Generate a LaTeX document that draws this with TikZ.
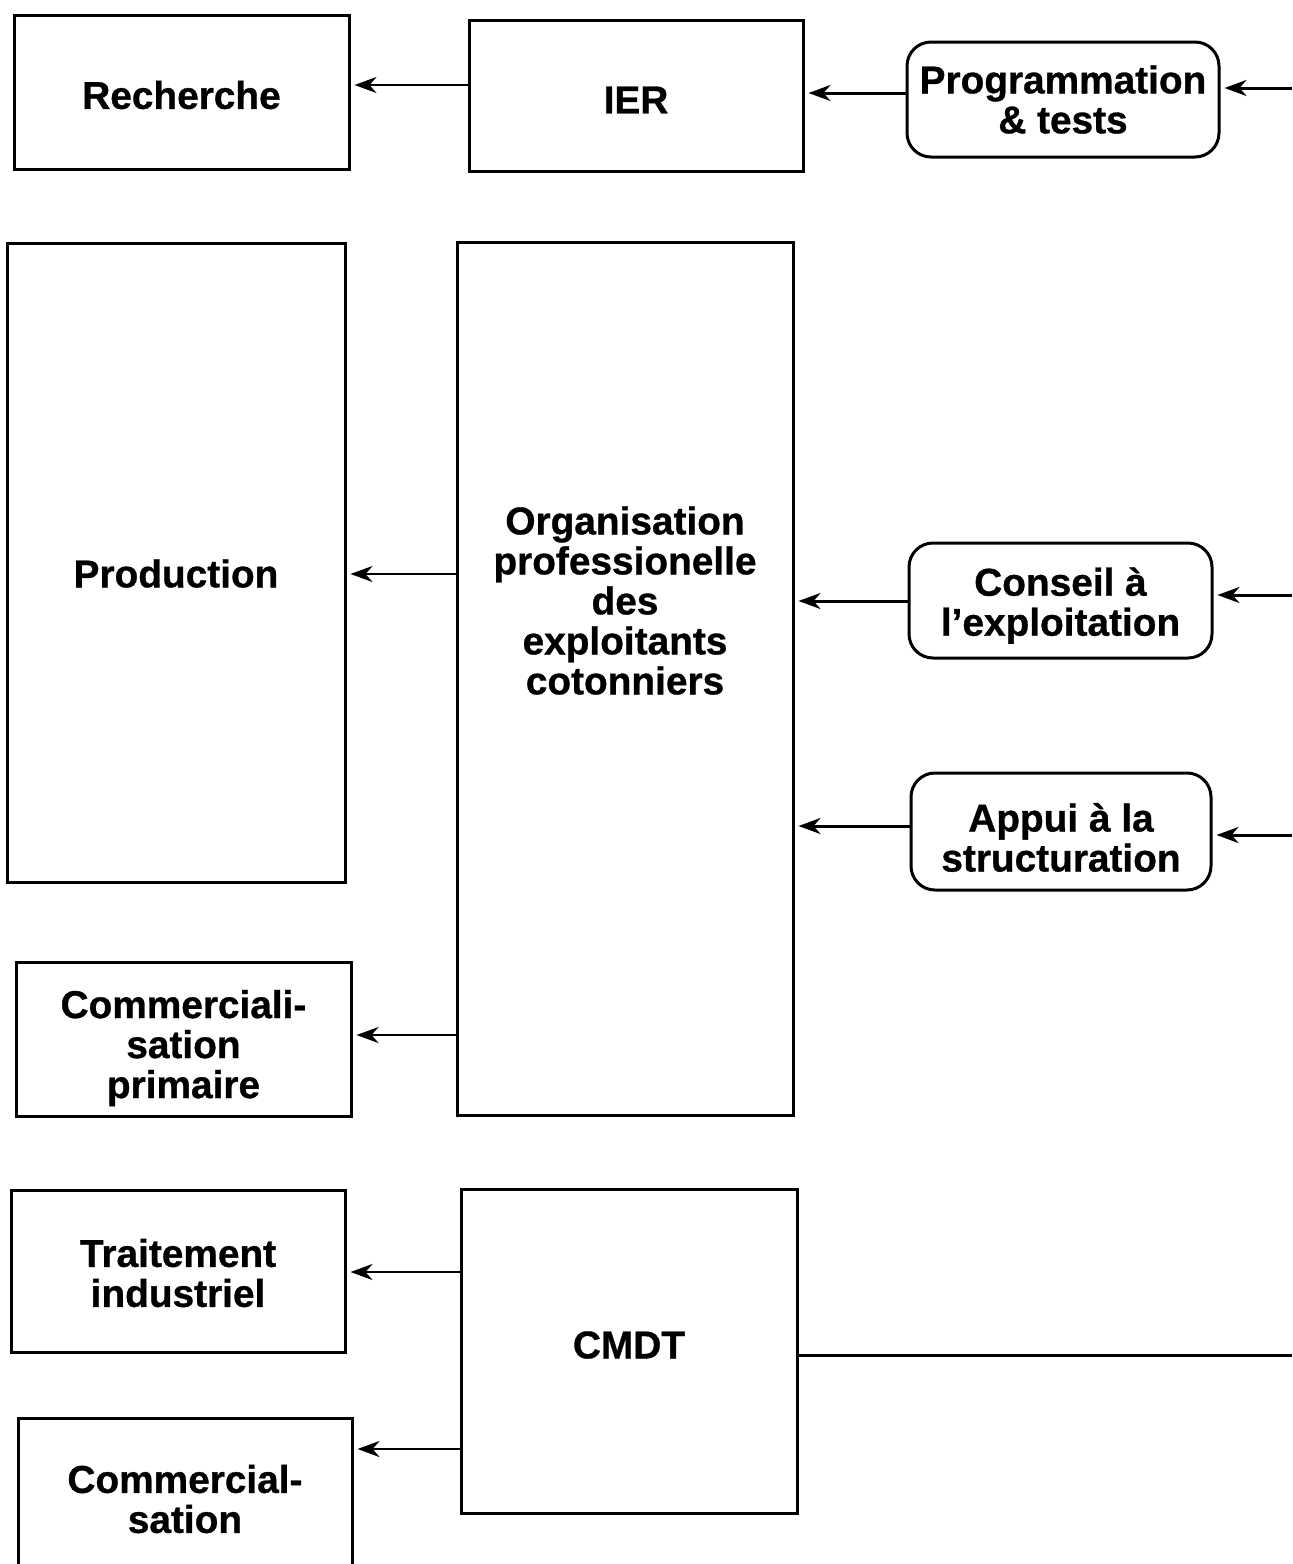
\documentclass[tikz,border=0pt]{standalone}
\usepackage{fontspec}
\setmainfont{Liberation Sans}[BoldFeatures={FakeBold=0.8}]
\usetikzlibrary{arrows.meta}
\begin{document}
\begin{tikzpicture}[x=0.5pt,y=-0.5pt,
  every node/.style={font=\fontsize{19.4}{20}\selectfont\bfseries, align=center, inner sep=0pt},
  box/.style={draw, line width=1.5pt, rectangle},
  rbox/.style={draw, line width=1.5pt, rectangle, rounded corners=12pt},
  arr/.style={line width=1.3pt, -{Stealth[length=11pt,width=8pt,inset=3.5pt]}, shorten >=2pt},
  thk/.style={line width=1.5pt}]
\useasboundingbox (0,0) rectangle (1292,1564);
% boxes (text placed as centred labels, shifted where the original text is off-centre)
\node[box, minimum width=167.5pt, minimum height=77pt, label={[yshift=-1.5pt]center:Recherche}] (rech) at (181.5,92) {};
\node[box, minimum width=167pt, minimum height=75.5pt, label={[yshift=-2.2pt]center:IER}] (ier) at (636,95.5) {};
\node[rbox, minimum width=156pt, minimum height=57.5pt] (prog) at (1063,99.5) {Programmation\\\& tests};
\node[box, minimum width=169pt, minimum height=319.5pt, label={[yshift=-5.5pt]center:Production}] (prod) at (176,562.5) {};
\node[box, minimum width=168pt, minimum height=436.5pt, label={[yshift=39pt]center:Organisation\\professionelle\\des\\exploitants\\cotonniers}] (opec) at (625,678.5) {};
\node[rbox, minimum width=151.5pt, minimum height=57.5pt, label={[yshift=-2.5pt]center:Conseil à\\l’exploitation}] (cons) at (1060.5,600.5) {};
\node[rbox, minimum width=150pt, minimum height=58.5pt, label={[yshift=-3pt]center:Appui à la\\structuration}] (appui) at (1061,831.5) {};
\node[box, minimum width=167.5pt, minimum height=77pt, label={[yshift=-4.5pt]center:Commerciali-\\sation\\primaire}] (comp) at (183.5,1039) {};
\node[box, minimum width=167pt, minimum height=81pt, label={[yshift=-1pt]center:Traitement\\industriel}] (trait) at (178,1271) {};
\node[box, minimum width=168pt, minimum height=162pt, label={[yshift=3pt]center:CMDT}] (cmdt) at (629,1351) {};
\node[box, minimum width=167pt, minimum height=81pt] (comm) at (185,1499) {Commercial-\\sation};
% free ends at right edge
\coordinate (e1) at (1292,88);
\coordinate (e2) at (1292,595);
\coordinate (e3) at (1292,835);
\coordinate (e4) at (1292,1355);
% connectors
\draw[arr, line width=1.5pt] (e1) -- (e1 -| prog.east);
\draw[arr, line width=1.5pt] (e2) -- (e2 -| cons.east);
\draw[arr, line width=1.5pt] (e3) -- (e3 -| appui.east);
\draw[thk] (cmdt.east |- e4) -- (e4);
\draw[arr, line width=1.5pt] (prog.west |- 0,93) -- (ier.east |- 0,93);
\draw[arr] (ier.west |- 0,85) -- (rech.east |- 0,85);
\draw[arr] (opec.west |- 0,574) -- (prod.east |- 0,574);
\draw[arr, line width=1.5pt] (cons.west |- 0,601) -- (opec.east |- 0,601);
\draw[arr, line width=1.5pt] (appui.west |- 0,826) -- (opec.east |- 0,826);
\draw[arr] (opec.west |- 0,1035) -- (comp.east |- 0,1035);
\draw[arr] (cmdt.west |- 0,1272) -- (trait.east |- 0,1272);
\draw[arr] (cmdt.west |- 0,1449) -- (comm.east |- 0,1449);
\end{tikzpicture}
\end{document}
